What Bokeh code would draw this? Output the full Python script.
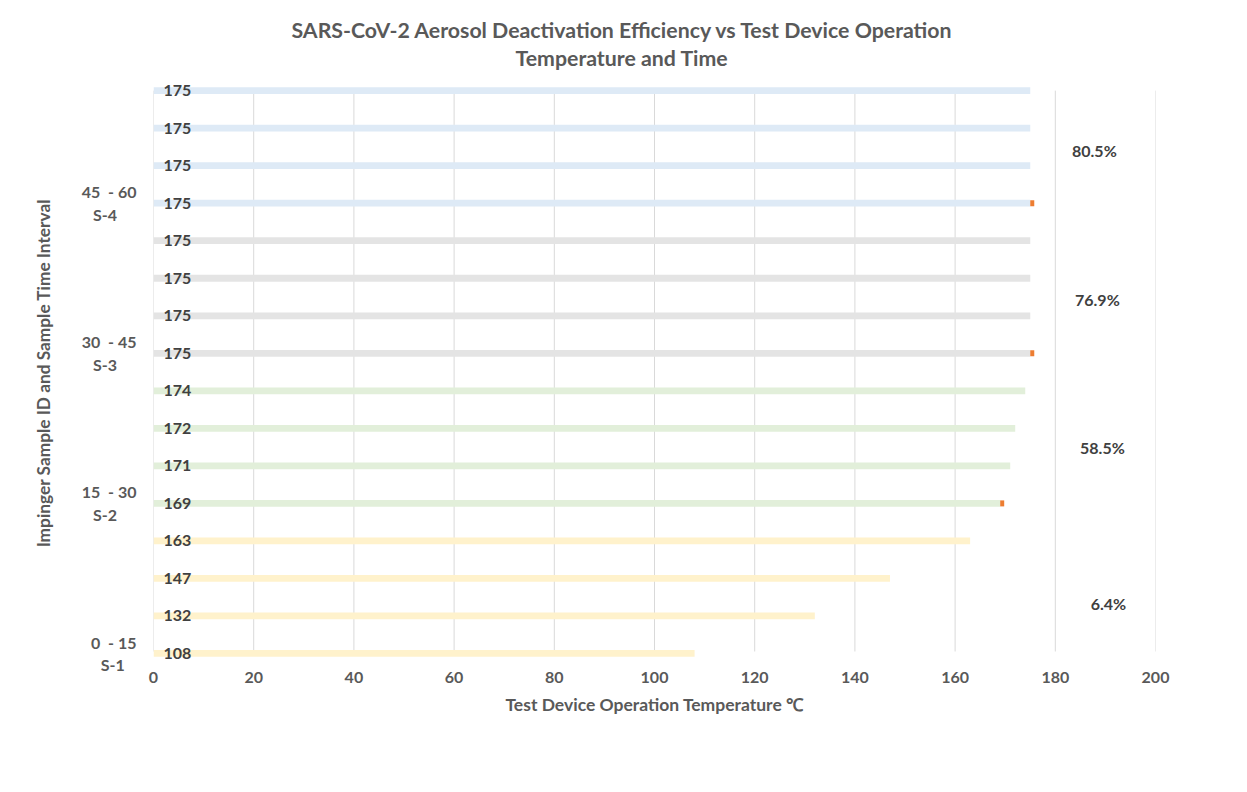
from bokeh.plotting import figure
from bokeh.models import ColumnDataSource, Label, LabelSet, FixedTicker, Range1d, Title
from bokeh.core.properties import value
from bokeh.embed import file_html
from bokeh.resources import INLINE

NB = "\u00a0"

# ---- data (bottom row first) ----
temperatures = [108, 132, 147, 163, 169, 171, 172, 174, 175, 175, 175, 175, 175, 175, 175, 175]
orange_extra = [0, 0, 0, 0, 0.8, 0, 0, 0, 0.8, 0, 0, 0, 0.8, 0, 0, 0]
group_names = ["0" + NB + " - 15\nS-1" + NB * 3,
               "15" + NB + " - 30\nS-2" + NB * 5,
               "30" + NB + " - 45\nS-3" + NB * 5,
               "45" + NB + " - 60\nS-4" + NB * 5]
group_rows = [0, 4, 8, 12]
group_colors = ["#FFF2CC", "#E2EFDA", "#E4E4E4", "#DEEAF6"]
efficiency_labels = ["6.4%", "58.5%", "76.9%", "80.5%"]
efficiency_x = [190.6, 189.4, 188.4, 187.8]
efficiency_y = [1.34, 5.5, 9.43, 13.41]
x_ticks = [0, 20, 40, 60, 80, 100, 120, 140, 160, 180, 200]
title_lines = ["SARS-CoV-2 Aerosol Deactivation Efficiency vs Test Device Operation",
               "Temperature and Time"]

FONT = "Lato"
TXT = "#595959"
DARK = "#404040"

rows = list(range(len(temperatures)))
colors = [group_colors[i // 4] for i in rows]
src = ColumnDataSource(dict(y=rows, t=temperatures, c=colors,
                            lab=[str(t) for t in temperatures], lx=[2.0] * len(rows)))
orows = [i for i in rows if orange_extra[i] > 0]
osrc = ColumnDataSource(dict(y=orows, l=[temperatures[i] for i in orows],
                             r=[temperatures[i] + orange_extra[i] for i in orows]))

p = figure(width=1231, height=776, output_backend="svg", toolbar_location=None,
           x_range=Range1d(0, 200), y_range=Range1d(-0.32, 15.27),
           min_border_left=153, min_border_right=76, min_border_top=80, min_border_bottom=111)
p.outline_line_color = None
p.background_fill_color = "white"
p.border_fill_color = "white"

# vertical gridlines spanning the category area
p.segment(x0=x_ticks, x1=x_ticks, y0=[0.053] * len(x_ticks), y1=[15.0] * len(x_ticks),
          line_color="#D9D9D9", line_width=1)

p.hbar(y="y", left=0, right="t", height=0.18, color="c", line_color=None, source=src)
p.hbar(y="y", left="l", right="r", height=0.16, color="#ED7D31", line_color=None, source=osrc)

p.add_layout(LabelSet(x="lx", y="y", text="lab", source=src, text_font=value(FONT),
                      text_font_style="bold", text_font_size="16px", text_color=DARK,
                      text_align="left", text_baseline="middle"))

for lab, ex, ey in zip(efficiency_labels, efficiency_x, efficiency_y):
    p.add_layout(Label(x=ex, y=ey, text=lab, text_font=FONT, text_font_style="bold",
                       text_font_size="16px", text_color=DARK, text_align="center",
                       text_baseline="middle"))

# titles (p.title is the outer line; added Title sits closer to the frame)
p.title.text = title_lines[0]
p.title.align = "left"
p.title.offset = 138
p.title.standoff = -18
p.title.text_font = FONT
p.title.text_font_style = "bold"
p.title.text_font_size = "21.3px"
p.title.text_color = TXT
p.add_layout(Title(text=title_lines[1], align="left", offset=362, standoff=19,
                   text_font=FONT, text_font_style="bold",
                   text_font_size="21.3px", text_color=TXT), "above")

p.ygrid.grid_line_color = None
p.xgrid.grid_line_color = None

p.yaxis.ticker = FixedTicker(ticks=group_rows)
p.yaxis.major_label_overrides = {r: n for r, n in zip(group_rows, group_names)}
p.yaxis.axis_line_color = None
p.yaxis.major_tick_line_color = None
p.yaxis.minor_tick_line_color = None
p.yaxis.major_label_standoff = 11
p.yaxis.major_label_text_font = FONT
p.yaxis.major_label_text_font_style = "bold"
p.yaxis.major_label_text_font_size = "16px"
p.yaxis.major_label_text_color = TXT
p.yaxis.axis_label = "Impinger Sample ID and Sample Time Interval"
p.yaxis.axis_label_text_font = FONT
p.yaxis.axis_label_text_font_style = "bold"
p.yaxis.axis_label_text_font_size = "17.3px"
p.yaxis.axis_label_text_color = TXT
p.yaxis.axis_label_standoff = 25

p.xaxis.ticker = FixedTicker(ticks=x_ticks)
p.xaxis.axis_line_color = None
p.xaxis.major_tick_line_color = None
p.xaxis.minor_tick_line_color = None
p.xaxis.major_label_standoff = 0
p.xaxis.major_label_text_font = FONT
p.xaxis.major_label_text_font_style = "bold"
p.xaxis.major_label_text_font_size = "16px"
p.xaxis.major_label_text_color = TXT
p.xaxis.axis_label = "Test Device Operation Temperature \u2103"
p.xaxis.axis_label_text_font = FONT
p.xaxis.axis_label_text_font_style = "bold"
p.xaxis.axis_label_text_font_size = "17.5px"
p.xaxis.axis_label_text_color = TXT
p.xaxis.axis_label_standoff = 8

open("out.html", "w").write(file_html(p, INLINE))
